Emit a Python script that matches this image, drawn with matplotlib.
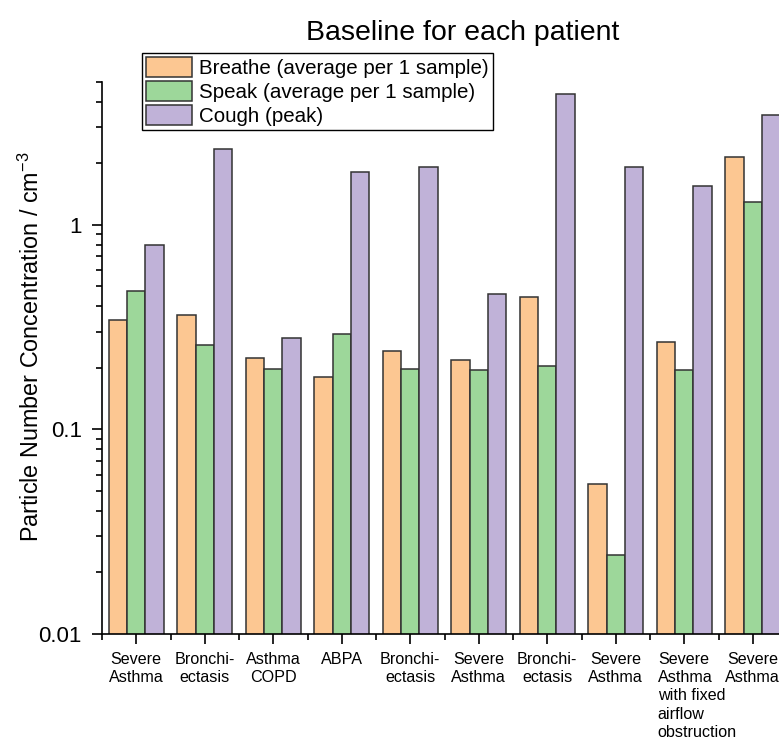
import matplotlib
matplotlib.use("Agg")
import matplotlib.pyplot as plt
from matplotlib.ticker import FixedLocator, LogLocator, NullFormatter
import numpy as np

plt.rcParams['font.family'] = ['Liberation Sans', 'DejaVu Sans']
plt.rcParams['mathtext.fontset'] = 'custom'
plt.rcParams['mathtext.rm'] = 'Liberation Sans'
plt.rcParams['mathtext.it'] = 'Liberation Sans:italic'

# diagnosis of each patient, in plotting order
patients = ["Severe\nAsthma", "Bronchi-\nectasis", "Asthma\nCOPD", "ABPA",
            "Bronchi-\nectasis", "Severe\nAsthma", "Bronchi-\nectasis",
            "Severe\nAsthma", "Severe\nAsthma\nwith fixed\nairflow\nobstruction",
            "Severe\nAsthma"]

# particle number concentration, cm^-3
breathe = [0.344, 0.361, 0.224, 0.180, 0.242, 0.218, 0.445, 0.0543, 0.267, 2.14]
speak = [0.473, 0.257, 0.198, 0.291, 0.198, 0.196, 0.205, 0.0243, 0.196, 1.285]
cough = [0.799, 2.35, 0.280, 1.81, 1.905, 0.461, 4.34, 1.905, 1.55, 3.44]

series = [
    (breathe, "Breathe (average per 1 sample)", "#FCC792"),
    (speak, "Speak (average per 1 sample)", "#9DD79A"),
    (cough, "Cough (peak)", "#C0B2D8"),
]

W, H = 779, 740
fig = plt.figure(figsize=(W / 100, H / 100), dpi=100)
ax = fig.add_axes([102 / W, 106 / H, 685 / W, 552.3 / H])

x = np.arange(1, len(patients) + 1)
bw = 0.267
for i, (vals, label, color) in enumerate(series):
    ax.bar(x + (i - 1) * bw, vals, width=bw, color=color, edgecolor="#333333",
           linewidth=1.1, label=label, zorder=2)

ax.set_yscale("log")
ax.set_ylim(0.01, 5)
ax.set_xlim(0.5, 10.5)

ax.set_yticks([0.01, 0.1, 1], labels=["0.01", "0.1", "1"])
ax.yaxis.set_minor_locator(LogLocator(base=10, subs=np.arange(2, 10)))
ax.yaxis.set_minor_formatter(NullFormatter())

ax.xaxis.set_major_locator(FixedLocator(x))
ax.xaxis.set_minor_locator(FixedLocator(np.arange(0.5, 11, 1)))
ax.set_xticklabels([])

for side in ("top", "right"):
    ax.spines[side].set_visible(False)
for side in ("left", "bottom"):
    ax.spines[side].set_linewidth(1.2)

ax.tick_params(axis="both", which="major", direction="out", length=7.5, width=1.2)
ax.tick_params(axis="both", which="minor", direction="out", length=4, width=1.2)
ax.tick_params(axis="y", which="major", labelsize=16, pad=7)

# category labels under each group, one line at a time; the long
# five-line label is left aligned
lab_size = 11.6
first_base = 21.6   # points below the axis line
pitch = 13.1        # points between baselines
for xi, name in zip(x, patients):
    lines = name.split("\n")
    long_label = len(lines) > 2
    for k, line in enumerate(lines):
        ax.annotate(line, xy=(xi, 0), xycoords=("data", "axes fraction"),
                    xytext=(-19 if long_label else 0, -first_base - k * pitch),
                    textcoords="offset points",
                    ha="left" if long_label else "center", va="baseline",
                    fontsize=lab_size, annotation_clip=False)

fig.text(463 / W, 1 - 40 / H, "Baseline for each patient", fontsize=20.5,
         ha="center", va="baseline")
fig.text(31 / W, 1 - 347 / H, r"Particle Number Concentration / cm$^{-3}$",
         fontsize=16.8, rotation=90, ha="center", va="center")

leg = fig.legend(loc="upper left", bbox_to_anchor=(142 / W, 1 - 53 / H),
                 bbox_transform=fig.transFigure, fontsize=14.8, frameon=True,
                 fancybox=False, edgecolor="black", framealpha=1,
                 handlelength=2.23, handleheight=1.1, handletextpad=0.34,
                 labelspacing=0.15, borderpad=0.2, borderaxespad=0)
leg.get_frame().set_linewidth(1.0)

fig.savefig("out.png", dpi=100)
